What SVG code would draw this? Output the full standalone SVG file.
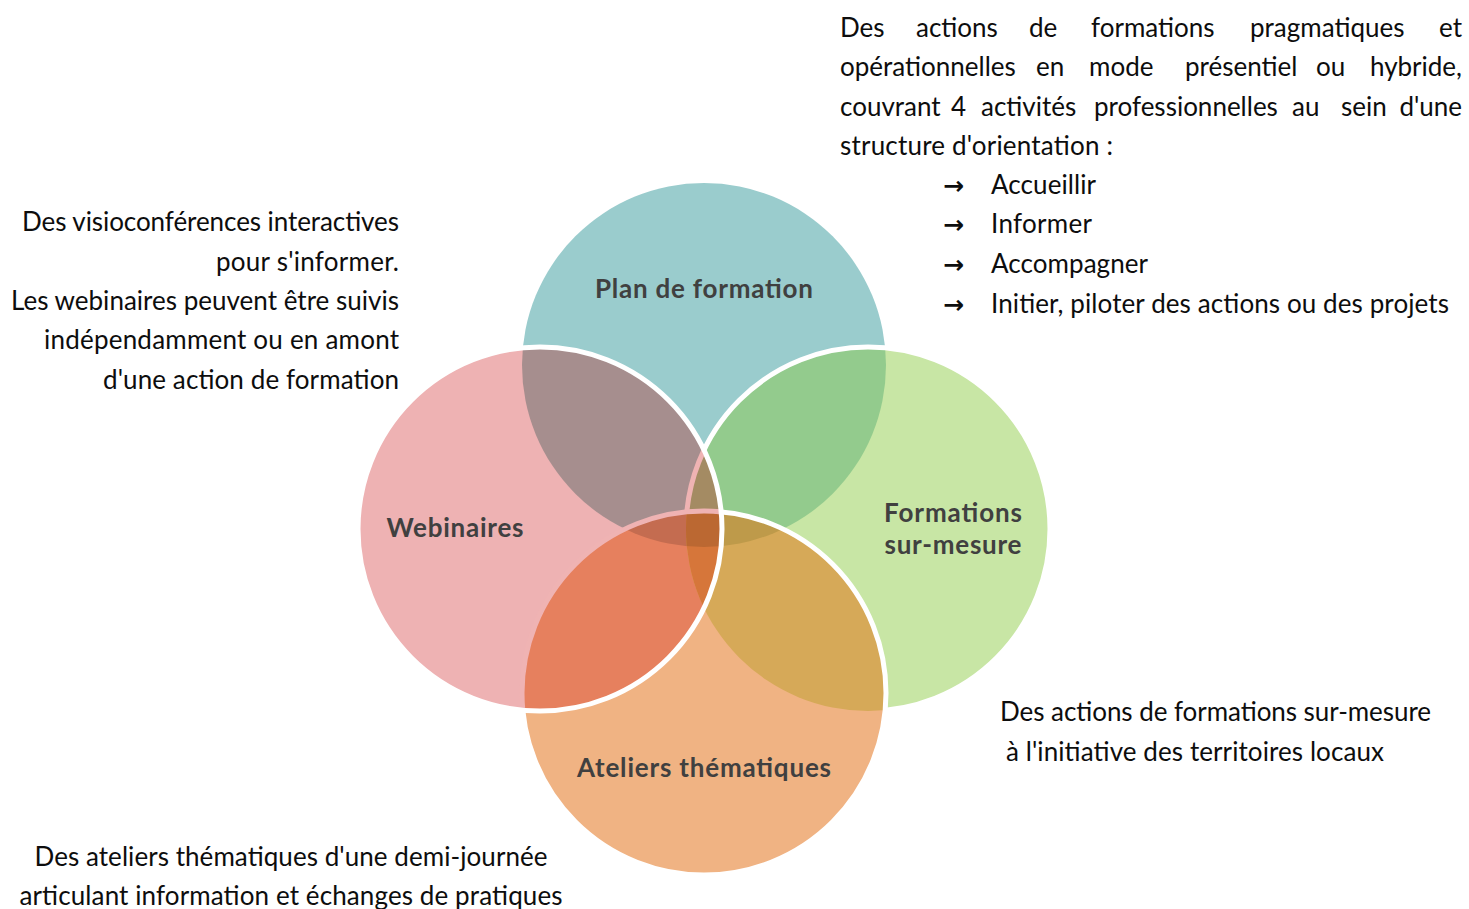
<svg xmlns="http://www.w3.org/2000/svg" width="1469" height="909" viewBox="0 0 1469 909">
<style>
.body{font-family:Lato,"Open Sans","Liberation Sans",sans-serif;font-size:26px;fill:#0d0d0d}
.lbl{font-family:Lato,"Open Sans","Liberation Sans",sans-serif;font-size:26px;font-weight:bold;fill:#404040}
.arr{font-family:"DejaVu Sans",sans-serif;font-size:25px;font-weight:bold;fill:#0d0d0d}
.sw{fill:none;stroke:#ffffff;stroke-width:5}
.sp{fill:none;stroke:#efb3b3;stroke-width:5}
</style>
<defs>
<circle id="cirT" cx="704" cy="365" r="182"/>
<circle id="cirL" cx="540" cy="529" r="182"/>
<circle id="cirR" cx="868" cy="529" r="182"/>
<circle id="cirB" cx="704" cy="693" r="182"/>
<clipPath id="cT"><use href="#cirT"/></clipPath>
<clipPath id="cL"><use href="#cirL"/></clipPath>
<clipPath id="cR"><use href="#cirR"/></clipPath>
<clipPath id="cB"><use href="#cirB"/></clipPath>
<mask id="mNotLB" maskUnits="userSpaceOnUse" x="0" y="0" width="1469" height="909">
<rect x="0" y="0" width="1469" height="909" fill="#fff"/>
<use href="#cirL" fill="#000"/><use href="#cirB" fill="#000"/>
</mask>
<mask id="mNotB" maskUnits="userSpaceOnUse" x="0" y="0" width="1469" height="909">
<rect x="0" y="0" width="1469" height="909" fill="#fff"/>
<use href="#cirB" fill="#000"/>
</mask>
<mask id="mNotL" maskUnits="userSpaceOnUse" x="0" y="0" width="1469" height="909">
<rect x="0" y="0" width="1469" height="909" fill="#fff"/>
<use href="#cirL" fill="#000"/>
</mask>
</defs>
<rect x="0" y="0" width="1469" height="909" fill="#ffffff"/>

<g id="node-plan"><use href="#cirT" fill="#9acccd"/></g>
<g id="node-webinaires"><use href="#cirL" fill="#eeb2b3"/></g>
<g id="node-formations"><use href="#cirR" fill="#c8e6a5"/></g>
<g id="node-ateliers"><use href="#cirB" fill="#f0b383"/></g>

<g id="overlaps">
<g clip-path="url(#cT)"><use href="#cirL" fill="#a68e8e"/></g>
<g clip-path="url(#cT)"><use href="#cirR" fill="#93cb8d"/></g>
<g clip-path="url(#cL)"><use href="#cirB" fill="#e6805e"/></g>
<g clip-path="url(#cR)"><use href="#cirB" fill="#d6a958"/></g>
<g clip-path="url(#cT)"><g clip-path="url(#cL)"><use href="#cirR" fill="#a48b63"/></g></g>
<g clip-path="url(#cT)"><g clip-path="url(#cL)"><use href="#cirB" fill="#c46c50"/></g></g>
<g clip-path="url(#cT)"><g clip-path="url(#cR)"><use href="#cirB" fill="#be9a4a"/></g></g>
<g clip-path="url(#cL)"><g clip-path="url(#cR)"><use href="#cirB" fill="#d6763a"/></g></g>
<g clip-path="url(#cT)"><g clip-path="url(#cL)"><g clip-path="url(#cR)"><use href="#cirB" fill="#bb6832"/></g></g></g>
</g>

<g id="outlines">
<use href="#cirR" class="sw" mask="url(#mNotLB)"/>
<g clip-path="url(#cL)"><use href="#cirR" class="sp" mask="url(#mNotB)"/></g>
<use href="#cirB" class="sw" mask="url(#mNotL)"/>
<g clip-path="url(#cL)"><use href="#cirB" class="sp"/></g>
<use href="#cirL" class="sw"/>
</g>

<g id="labels">
<text class="lbl" x="704" y="298" text-anchor="middle" textLength="218" lengthAdjust="spacing">Plan de formation</text>
<text class="lbl" x="455" y="537" text-anchor="middle" textLength="137" lengthAdjust="spacing">Webinaires</text>
<text class="lbl" x="953" y="522" text-anchor="middle" textLength="138" lengthAdjust="spacing">Formations</text>
<text class="lbl" x="953" y="554" text-anchor="middle" textLength="137" lengthAdjust="spacing">sur-mesure</text>
<text class="lbl" x="704" y="777" text-anchor="middle" textLength="254" lengthAdjust="spacing">Ateliers thématiques</text>
</g>

<g id="text-webinaires" class="body" text-anchor="end">
<text x="399" y="231" textLength="377" lengthAdjust="spacing">Des visioconférences interactives</text>
<text x="399" y="271" textLength="183" lengthAdjust="spacing">pour s'informer.</text>
<text x="399" y="310" textLength="388" lengthAdjust="spacing">Les webinaires peuvent être suivis</text>
<text x="399" y="349" textLength="355" lengthAdjust="spacing">indépendamment ou en amont</text>
<text x="399" y="389" textLength="296" lengthAdjust="spacing">d'une action de formation</text>
</g>

<g id="text-ateliers" class="body" text-anchor="middle">
<text x="291" y="866" textLength="513" lengthAdjust="spacing">Des ateliers thématiques d'une demi-journée</text>
<text x="291" y="905" textLength="543" lengthAdjust="spacing">articulant information et échanges de pratiques</text>
</g>

<g id="text-formations" class="body">
<text x="1000" y="721" textLength="431" lengthAdjust="spacing">Des actions de formations sur-mesure</text>
<text x="1006" y="761" textLength="378" lengthAdjust="spacing">à l'initiative des territoires locaux</text>
</g>

<g id="text-plan" class="body">
<text y="37"><tspan x="840">Des</tspan><tspan x="916">actions</tspan><tspan x="1029">de</tspan><tspan x="1091">formations</tspan><tspan x="1250">pragmatiques</tspan><tspan x="1462" text-anchor="end">et</tspan></text>
<text y="76"><tspan x="840">opérationnelles</tspan><tspan x="1036">en</tspan><tspan x="1089">mode</tspan><tspan x="1185">présentiel</tspan><tspan x="1316">ou</tspan><tspan x="1462" text-anchor="end">hybride,</tspan></text>
<text y="116"><tspan x="840">couvrant</tspan><tspan x="951">4</tspan><tspan x="981">activités</tspan><tspan x="1094">professionnelles</tspan><tspan x="1292">au</tspan><tspan x="1341">sein</tspan><tspan x="1462" text-anchor="end">d'une</tspan></text>
<text x="840" y="155" textLength="273" lengthAdjust="spacing">structure d'orientation :</text>
<text class="arr" x="943" y="194">→</text>
<text class="arr" x="943" y="233">→</text>
<text class="arr" x="943" y="273">→</text>
<text class="arr" x="943" y="313">→</text>
<text x="991" y="194" textLength="105" lengthAdjust="spacing">Accueillir</text>
<text x="991" y="233" textLength="101" lengthAdjust="spacing">Informer</text>
<text x="991" y="273" textLength="157" lengthAdjust="spacing">Accompagner</text>
<text x="991" y="313" textLength="458" lengthAdjust="spacing">Initier, piloter des actions ou des projets</text>
</g>
</svg>
